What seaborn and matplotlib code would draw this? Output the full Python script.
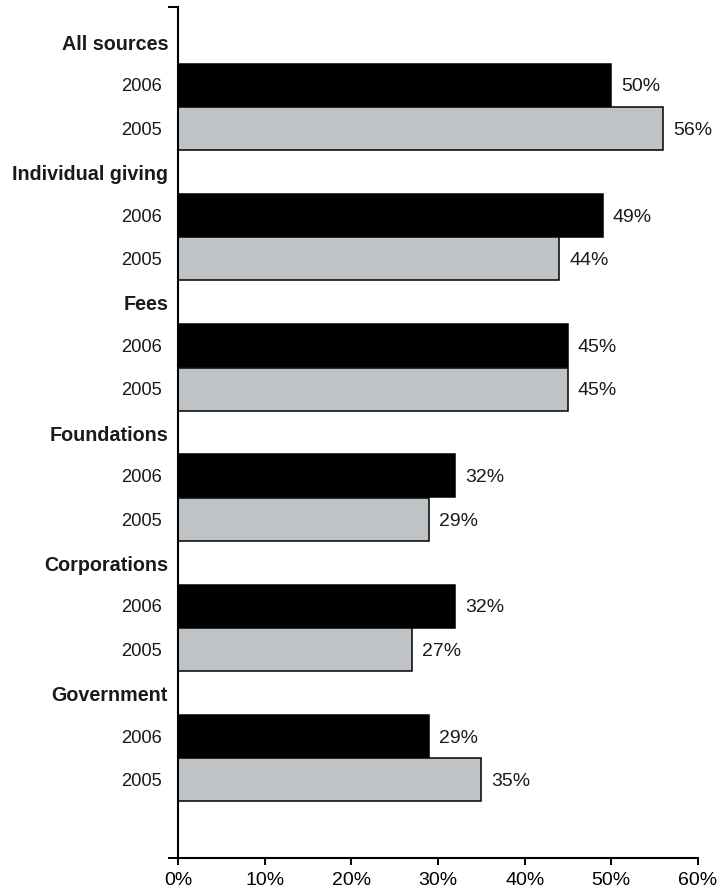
import matplotlib
matplotlib.use("Agg")
import matplotlib.pyplot as plt
import matplotlib.transforms as mtransforms
import pandas as pd
import seaborn as sns

sources = ["All sources", "Individual giving", "Fees", "Foundations", "Corporations", "Government"]
years = ["2006", "2005"]
values_2006 = [50, 49, 45, 32, 32, 29]
values_2005 = [56, 44, 45, 29, 27, 35]
x_ticks = [0, 10, 20, 30, 40, 50, 60]

# one row per bar, plus an empty heading row above each group
rows = []
order = []
for src, v6, v5 in zip(sources, values_2006, values_2005):
    order += [src, src + " 2006", src + " 2005"]
    rows.append({"row": src + " 2006", "year": "2006", "value": v6})
    rows.append({"row": src + " 2005", "year": "2005", "value": v5})
df = pd.DataFrame(rows)

sns.set_style("white")
plt.rcParams["font.family"] = ["Liberation Sans", "DejaVu Sans"]
plt.rcParams["text.color"] = "black"
plt.rcParams["xtick.color"] = "black"
plt.rcParams["ytick.color"] = "black"

fig = plt.figure(figsize=(7.25, 8.94), dpi=100)
ax = fig.add_axes([0.2455, 0.0403, 0.7172, 0.9519])

sns.barplot(data=df, y="row", x="value", hue="year", order=order,
            hue_order=years, palette={"2006": "black", "2005": "#bec3c6"},
            dodge=False, width=0.99, edgecolor="black", linewidth=1.1,
            legend=False, ax=ax)

ax.set_xlim(0, 60)
ax.set_ylim(18.8, -0.8)
ax.set_xlabel("")
ax.set_ylabel("")

ax.set_xticks(x_ticks)
ax.set_xticklabels([f"{t}%" for t in x_ticks], fontsize=14)
ax.tick_params(axis="x", direction="out", length=5, width=1.4, pad=5,
               bottom=True, colors="black")

# small end ticks on the vertical axis, no labels
ax.set_yticks([-0.8, 18.8])
ax.set_yticklabels(["", ""])
ax.tick_params(axis="y", direction="out", length=7.5, width=1.4, left=True)

for side in ["top", "right"]:
    ax.spines[side].set_visible(False)
for side in ["left", "bottom"]:
    ax.spines[side].set_color("black")
    ax.spines[side].set_linewidth(1.5)

trans = mtransforms.blended_transform_factory(ax.transAxes, ax.transData)
for i, (src, v6, v5) in enumerate(zip(sources, values_2006, values_2005)):
    ax.text(-0.019, 3 * i + 0.06, src, transform=trans, ha="right", va="center",
            fontsize=14.2, fontweight="bold", color="#1a1a1a")
    for j, (yr, v) in enumerate(zip(years, [v6, v5])):
        pos = 3 * i + 1 + j
        ax.text(-0.031, pos + 0.04, yr, transform=trans, ha="right", va="center",
                fontsize=13.2, color="#1a1a1a")
        ax.annotate(f"{v}%", xy=(v, pos + 0.04), xytext=(7, 0), textcoords="offset points",
                    ha="left", va="center", fontsize=14, color="#1a1a1a")

fig.savefig("out.png", dpi=100)
